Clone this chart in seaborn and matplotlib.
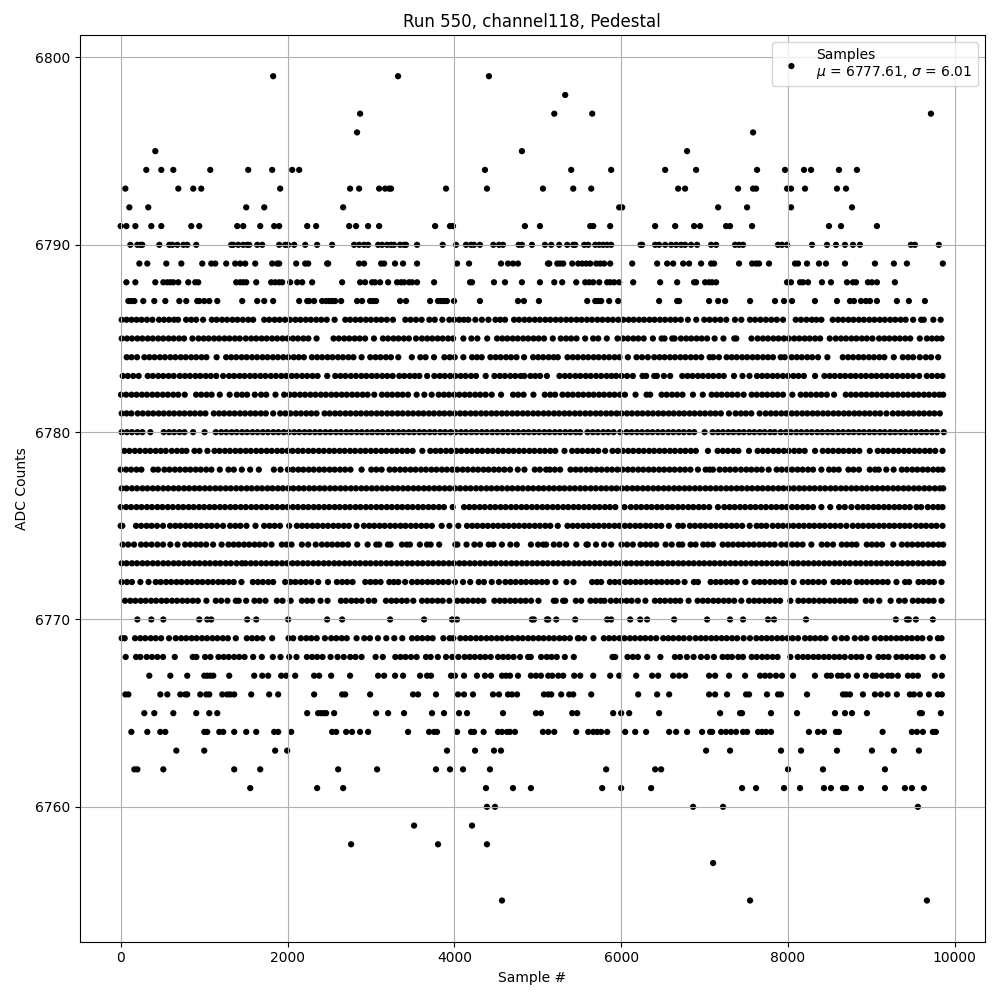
import pandas as pd
import matplotlib
matplotlib.use("Agg")
import matplotlib.pyplot as plt
import seaborn as sns

# Sample numbers, one list per ADC level.
# Solid rows can't be read dot by dot, so those are estimated along the visible runs.
s6799 = [1828, 3325, 4415]
s6798 = [5329]
s6797 = [2870, 5198, 5653, 9713]
s6796 = [2834, 7581]
s6795 = [415, 4810, 6790]
s6794 = [307, 487, 631, 1074, 1529, 1816, 2056, 2140, 4367, 5401, 5880, 6527, 6898, 7629, 7964, 8192, 8276, 8611, 8826]
s6793 = [56, 691, 870, 966, 1912, 2750, 2858, 3098, 3170, 3218, 3241, 3900, 4391, 5062, 5425, 5641, 6683, 6766, 7401, 7581, 7617, 7988, 8036, 8204, 8587, 8695]
s6792 = [104, 331, 1505, 1721, 2667, 5976, 6012, 7162, 7509, 8036, 8767]
s6791 = [0, 68, 176, 367, 487, 846, 942, 1397, 1469, 1673, 1840, 1900, 2236, 2343, 2739, 2822, 2966, 3098, 3769, 3948, 3984, 4846, 5026, 5629, 5665, 5868, 6407, 6647, 6874, 6946, 7257, 7305, 7569, 8491, 8635, 9066]
s6790 = [116, 200, 236, 259, 463, 583, 619, 679, 751, 799, 906, 1325, 1349, 1409, 1469, 1517, 1541, 1637, 1697, 1900, 1972, 2008, 2080, 2212, 2355, 2535, 2798, 2858, 2918, 2966, 3086, 3134, 3194, 3241, 3277, 3349, 3397, 3421, 3553, 3860, 4020, 4140, 4200, 4236, 4307, 4467, 4535, 4583, 4771, 4810, 4930, 5086, 5162, 5257, 5353, 5425, 5449, 5557, 5605, 5689, 5737, 5784, 5832, 5880, 6232, 6251, 6407, 6455, 6527, 6599, 6659, 6719, 6766, 6838, 6910, 7078, 7138, 7365, 7413, 7461, 7880, 7928, 7988, 8288, 8467, 8575, 8683, 8779, 8862, 9473, 9521, 9808]
s6789 = [224, 319, 547, 727, 978, 1086, 1134, 1265, 1373, 1433, 1493, 1613, 1816, 1876, 1900, 2104, 2212, 2248, 2475, 2487, 2858, 2918, 3122, 3158, 3289, 3385, 3553, 4032, 4176, 4559, 4643, 4703, 4763, 5122, 5138, 5234, 5269, 5305, 5413, 5485, 5533, 5581, 5629, 5701, 5749, 5796, 5868, 6132, 6431, 6551, 6623, 6743, 6814, 6958, 7078, 7114, 7413, 7569, 7617, 7653, 7772, 8084, 8120, 8228, 8371, 8455, 8683, 9042, 9269, 9425, 9856]
s6788 = [68, 176, 415, 511, 559, 595, 631, 691, 810, 894, 930, 1385, 1433, 1469, 1505, 1625, 1804, 1852, 1900, 1936, 2032, 2116, 2176, 2295, 2655, 2870, 2930, 3014, 3050, 3110, 3206, 3313, 3361, 3397, 3457, 3493, 3553, 3757, 4188, 4212, 4475, 4607, 4810, 5026, 5198, 5293, 5461, 5569, 5617, 5665, 5737, 5832, 5868, 5916, 5976, 6144, 6467, 6671, 6874, 6898, 7006, 7054, 7090, 7138, 7988, 8036, 8144, 8180, 8240, 8407, 8515, 8707, 8779, 8815, 8958, 9006, 9066, 9281]
s6787 = [92, 128, 164, 271, 403, 535, 703, 786, 918, 942, 1002, 1062, 1158, 1457, 1637, 1721, 1828, 2140, 2236, 2259, 2319, 2415, 2463, 2499, 2535, 2571, 2643, 2834, 2894, 2990, 3026, 3062, 3349, 3421, 3709, 3804, 3840, 3876, 3912, 3996, 4307, 4763, 4834, 5014, 5593, 5689, 5725, 5760, 5856, 5964, 6455, 6671, 6695, 7054, 7162, 7246, 7545, 7844, 7952, 8048, 8323, 8587, 8743, 8791, 8875, 8934, 8982, 9066, 9305, 9449, 9641]
s6786 = [12, 70, 130, 190, 250, 315, 380, 460, 520, 580, 640, 688, 784, 845, 905, 988, 1092, 1150, 1215, 1275, 1340, 1400, 1465, 1530, 1588, 1720, 1780, 1845, 1905, 1970, 2030, 2095, 2155, 2220, 2280, 2345, 2405, 2470, 2564, 2692, 2750, 2815, 2875, 2940, 3000, 3065, 3125, 3190, 3264, 3412, 3475, 3540, 3608, 3700, 3765, 3856, 3940, 4000, 4060, 4115, 4168, 4252, 4330, 4408, 4492, 4550, 4608, 4716, 4775, 4840, 4900, 4965, 5025, 5090, 5150, 5215, 5275, 5340, 5400, 5465, 5525, 5590, 5650, 5715, 5775, 5840, 5900, 5965, 6025, 6090, 6150, 6215, 6275, 6340, 6400, 6465, 6525, 6590, 6650, 6715, 6800, 6900, 6996, 7060, 7125, 7190, 7260, 7364, 7440, 7544, 7605, 7670, 7735, 7800, 7865, 7940, 8092, 8155, 8220, 8285, 8340, 8400, 8536, 8600, 8660, 8725, 8785, 8850, 8910, 8975, 9035, 9100, 9160, 9225, 9285, 9350, 9410, 9500, 9596, 9628, 9742, 9830]
s6785 = [12, 75, 135, 200, 260, 325, 385, 450, 510, 575, 635, 700, 760, 860, 932, 995, 1055, 1120, 1180, 1245, 1305, 1370, 1428, 1500, 1565, 1625, 1690, 1750, 1815, 1875, 1940, 2000, 2065, 2125, 2190, 2250, 2348, 2552, 2615, 2680, 2740, 2805, 2865, 2930, 3036, 3144, 3205, 3270, 3330, 3395, 3455, 3540, 3612, 3675, 3735, 3800, 3860, 3925, 3985, 4108, 4204, 4276, 4394, 4512, 4575, 4635, 4700, 4760, 4825, 4885, 4950, 5010, 5075, 5180, 5276, 5340, 5400, 5465, 5568, 5664, 5725, 5828, 5956, 6020, 6080, 6145, 6205, 6270, 6380, 6484, 6520, 6612, 6640, 6716, 6780, 6840, 6905, 6965, 7030, 7120, 7226, 7356, 7380, 7562, 7636, 7700, 7760, 7825, 7885, 7950, 8010, 8075, 8135, 8200, 8260, 8325, 8385, 8500, 8572, 8635, 8695, 8760, 8820, 8885, 8945, 9012, 9092, 9155, 9215, 9280, 9340, 9405, 9465, 9580, 9664, 9725, 9785, 9840]
s6784 = [72, 130, 196, 284, 345, 405, 470, 530, 595, 655, 720, 780, 845, 905, 970, 1028, 1150, 1264, 1325, 1385, 1450, 1510, 1575, 1635, 1700, 1760, 1825, 1885, 1950, 2010, 2075, 2135, 2196, 2292, 2355, 2415, 2480, 2540, 2605, 2665, 2730, 2790, 2888, 2992, 3055, 3115, 3180, 3240, 3328, 3490, 3592, 3655, 3756, 3880, 3945, 4005, 4108, 4212, 4270, 4328, 4432, 4495, 4555, 4620, 4680, 4745, 4836, 4944, 5005, 5065, 5130, 5190, 5240, 5356, 5420, 5480, 5545, 5605, 5670, 5730, 5795, 5855, 5920, 5980, 6080, 6184, 6250, 6320, 6396, 6460, 6520, 6585, 6645, 6710, 6770, 6835, 6895, 6960, 7060, 7104, 7172, 7264, 7325, 7385, 7450, 7510, 7575, 7635, 7700, 7760, 7820, 7912, 7960, 8044, 8105, 8165, 8230, 8290, 8360, 8472, 8656, 8720, 8780, 8845, 8905, 8970, 9030, 9095, 9155, 9268, 9376, 9440, 9500, 9580, 9652, 9715, 9800]
s6783 = [24, 85, 150, 216, 324, 385, 450, 510, 575, 636, 708, 770, 830, 895, 955, 1020, 1080, 1145, 1228, 1300, 1360, 1425, 1485, 1550, 1610, 1675, 1735, 1800, 1860, 1925, 1985, 2050, 2110, 2175, 2235, 2300, 2360, 2476, 2572, 2635, 2695, 2760, 2820, 2885, 2945, 3010, 3070, 3135, 3195, 3260, 3340, 3400, 3465, 3525, 3580, 3674, 3760, 3825, 3885, 3950, 4010, 4075, 4135, 4200, 4260, 4376, 4480, 4545, 4605, 4670, 4730, 4795, 4840, 4912, 4970, 5028, 5110, 5260, 5325, 5385, 5450, 5510, 5575, 5635, 5700, 5760, 5825, 5885, 5940, 6004, 6070, 6140, 6256, 6300, 6396, 6428, 6512, 6588, 6732, 6795, 6855, 6920, 6980, 7045, 7105, 7170, 7230, 7352, 7454, 7538, 7628, 7690, 7750, 7815, 7875, 7940, 8000, 8065, 8125, 8190, 8324, 8436, 8500, 8560, 8625, 8685, 8750, 8810, 8875, 8935, 9000, 9060, 9125, 9185, 9250, 9310, 9375, 9435, 9500, 9572, 9664, 9725, 9790, 9852]
s6782 = [4, 65, 130, 190, 255, 315, 380, 440, 505, 565, 630, 690, 768, 904, 965, 1030, 1090, 1188, 1306, 1392, 1455, 1515, 1608, 1684, 1745, 1856, 1960, 2025, 2085, 2150, 2210, 2275, 2335, 2400, 2460, 2525, 2585, 2650, 2710, 2775, 2835, 2900, 2960, 3040, 3132, 3195, 3255, 3320, 3380, 3445, 3548, 3640, 3728, 3812, 3875, 3935, 4000, 4060, 4125, 4185, 4250, 4310, 4375, 4448, 4560, 4704, 4765, 4830, 4948, 5084, 5150, 5208, 5296, 5360, 5420, 5485, 5545, 5610, 5670, 5735, 5795, 5860, 5920, 5985, 6045, 6172, 6304, 6348, 6484, 6545, 6610, 6670, 6735, 6860, 6978, 7084, 7145, 7205, 7270, 7330, 7395, 7468, 7564, 7625, 7690, 7750, 7815, 7875, 7940, 8052, 8152, 8215, 8275, 8340, 8400, 8465, 8552, 8692, 8755, 8815, 8880, 8940, 9005, 9065, 9130, 9190, 9255, 9315, 9380, 9440, 9505, 9565, 9630, 9690, 9755, 9815, 9860]
s6781 = [12, 70, 128, 204, 265, 330, 390, 455, 515, 580, 640, 705, 765, 830, 890, 955, 1016, 1116, 1180, 1240, 1305, 1365, 1430, 1490, 1555, 1615, 1680, 1740, 1828, 1912, 1975, 2035, 2100, 2160, 2225, 2285, 2348, 2444, 2505, 2570, 2630, 2695, 2755, 2820, 2880, 2945, 3005, 3070, 3130, 3195, 3255, 3320, 3380, 3445, 3505, 3570, 3630, 3695, 3755, 3820, 3880, 3945, 4005, 4070, 4130, 4195, 4255, 4320, 4380, 4445, 4505, 4570, 4630, 4695, 4755, 4820, 4880, 4945, 5005, 5070, 5130, 5195, 5255, 5320, 5380, 5445, 5505, 5570, 5630, 5695, 5755, 5820, 5880, 5945, 6005, 6070, 6130, 6195, 6255, 6320, 6380, 6445, 6505, 6570, 6630, 6695, 6755, 6820, 6880, 6945, 7005, 7070, 7130, 7195, 7292, 7372, 7435, 7495, 7560, 7660, 7732, 7795, 7855, 7920, 7980, 8045, 8105, 8170, 8230, 8295, 8355, 8420, 8480, 8545, 8605, 8670, 8730, 8795, 8855, 8920, 8980, 9045, 9105, 9180, 9256, 9320, 9380, 9445, 9505, 9570, 9630, 9695, 9755, 9820]
s6780 = [12, 75, 135, 200, 260, 356, 516, 580, 640, 705, 765, 868, 1006, 1140, 1205, 1265, 1330, 1390, 1455, 1515, 1580, 1640, 1705, 1765, 1830, 1890, 1955, 2015, 2080, 2140, 2205, 2265, 2330, 2390, 2455, 2515, 2580, 2640, 2705, 2765, 2830, 2890, 2955, 3015, 3080, 3140, 3205, 3265, 3330, 3390, 3455, 3515, 3580, 3640, 3705, 3765, 3830, 3890, 3955, 4015, 4080, 4140, 4205, 4265, 4330, 4390, 4455, 4515, 4580, 4640, 4705, 4765, 4830, 4890, 4955, 5015, 5080, 5140, 5205, 5265, 5330, 5390, 5455, 5508, 5596, 5660, 5720, 5785, 5845, 5910, 5988, 6064, 6125, 6190, 6250, 6315, 6375, 6440, 6500, 6565, 6625, 6690, 6750, 6815, 6875, 7000, 7096, 7160, 7220, 7285, 7345, 7410, 7470, 7535, 7595, 7660, 7720, 7785, 7840, 7912, 7975, 8035, 8100, 8160, 8225, 8285, 8350, 8410, 8475, 8535, 8600, 8660, 8725, 8785, 8850, 8910, 8975, 9035, 9100, 9160, 9225, 9285, 9350, 9410, 9475, 9535, 9600, 9660, 9725, 9785, 9868]
s6779 = [44, 105, 170, 230, 295, 355, 420, 480, 540, 612, 675, 735, 788, 884, 945, 1040, 1124, 1185, 1250, 1310, 1375, 1435, 1500, 1560, 1625, 1685, 1750, 1810, 1875, 1935, 2000, 2060, 2125, 2185, 2250, 2310, 2375, 2435, 2500, 2560, 2625, 2685, 2750, 2810, 2875, 2935, 3000, 3060, 3125, 3185, 3250, 3310, 3375, 3435, 3500, 3616, 3712, 3775, 3835, 3900, 3960, 4025, 4085, 4150, 4210, 4275, 4335, 4400, 4460, 4525, 4585, 4650, 4710, 4775, 4835, 4900, 4960, 5025, 5085, 5150, 5210, 5320, 5412, 5475, 5535, 5600, 5660, 5725, 5808, 5896, 5960, 6020, 6085, 6145, 6210, 6270, 6335, 6395, 6460, 6520, 6585, 6645, 6710, 6770, 6835, 6895, 7040, 7156, 7220, 7280, 7345, 7405, 7532, 7636, 7700, 7760, 7825, 7885, 7950, 8010, 8075, 8135, 8200, 8324, 8416, 8480, 8540, 8605, 8665, 8730, 8790, 8855, 8980, 9076, 9140, 9200, 9265, 9325, 9390, 9450, 9515, 9575, 9640, 9700, 9765, 9852]
s6778 = [0, 65, 125, 190, 248, 392, 448, 524, 585, 650, 710, 775, 835, 900, 960, 1025, 1088, 1188, 1292, 1356, 1452, 1552, 1656, 1836, 1916, 2004, 2065, 2130, 2190, 2255, 2315, 2380, 2440, 2505, 2565, 2630, 2690, 2755, 2888, 3004, 3065, 3128, 3224, 3285, 3350, 3410, 3475, 3535, 3600, 3660, 3725, 3785, 3850, 3910, 3975, 4035, 4100, 4160, 4225, 4285, 4350, 4410, 4475, 4535, 4600, 4668, 4760, 4840, 4964, 5025, 5100, 5144, 5205, 5268, 5392, 5455, 5515, 5580, 5640, 5705, 5765, 5830, 5890, 5955, 6015, 6080, 6140, 6205, 6265, 6330, 6390, 6455, 6515, 6580, 6640, 6705, 6765, 6830, 6920, 7012, 7060, 7100, 7180, 7245, 7305, 7368, 7436, 7500, 7560, 7625, 7685, 7768, 7864, 7925, 7990, 8050, 8115, 8175, 8240, 8300, 8400, 8492, 8550, 8608, 8724, 8785, 8850, 8980, 9044, 9088, 9178, 9266, 9364, 9425, 9490, 9550, 9615, 9675, 9740, 9800, 9852]
s6777 = [12, 70, 135, 195, 260, 320, 385, 445, 510, 570, 635, 695, 760, 820, 885, 945, 1010, 1070, 1135, 1195, 1260, 1320, 1385, 1445, 1510, 1570, 1635, 1695, 1760, 1820, 1885, 1945, 2010, 2070, 2135, 2195, 2260, 2320, 2385, 2445, 2510, 2570, 2635, 2695, 2760, 2820, 2885, 2945, 3010, 3070, 3135, 3195, 3260, 3320, 3385, 3445, 3510, 3570, 3635, 3695, 3760, 3820, 3885, 3945, 4010, 4070, 4135, 4195, 4260, 4320, 4385, 4445, 4510, 4570, 4635, 4695, 4760, 4820, 4885, 4945, 5010, 5070, 5135, 5195, 5260, 5320, 5385, 5445, 5510, 5570, 5635, 5695, 5760, 5820, 5885, 5945, 6010, 6070, 6135, 6195, 6260, 6320, 6385, 6445, 6510, 6570, 6635, 6695, 6760, 6820, 6885, 6945, 7010, 7070, 7135, 7195, 7260, 7320, 7385, 7445, 7510, 7570, 7635, 7695, 7760, 7820, 7885, 7945, 8010, 8070, 8135, 8195, 8260, 8320, 8385, 8445, 8510, 8570, 8635, 8695, 8760, 8820, 8885, 8945, 9010, 9070, 9135, 9195, 9260, 9320, 9385, 9445, 9510, 9570, 9635, 9695, 9760, 9820, 9860]
s6776 = [0, 65, 125, 190, 250, 315, 375, 440, 500, 565, 625, 690, 750, 815, 875, 940, 1000, 1065, 1125, 1190, 1250, 1315, 1375, 1440, 1500, 1565, 1625, 1690, 1750, 1815, 1875, 1940, 2000, 2065, 2125, 2190, 2250, 2315, 2375, 2440, 2500, 2565, 2625, 2690, 2750, 2815, 2875, 2940, 3000, 3065, 3125, 3190, 3250, 3315, 3375, 3440, 3500, 3565, 3625, 3690, 3750, 3815, 3875, 3980, 4116, 4180, 4240, 4305, 4365, 4430, 4490, 4555, 4615, 4680, 4740, 4805, 4865, 4930, 4990, 5055, 5115, 5180, 5240, 5305, 5365, 5430, 5490, 5555, 5615, 5680, 5740, 5805, 5865, 5930, 6040, 6116, 6180, 6240, 6305, 6365, 6430, 6490, 6555, 6615, 6680, 6740, 6805, 6865, 6930, 6990, 7055, 7160, 7236, 7300, 7360, 7425, 7485, 7550, 7610, 7675, 7735, 7800, 7860, 7925, 7985, 8050, 8110, 8175, 8235, 8300, 8400, 8506, 8612, 8680, 8760, 8836, 8900, 8960, 9025, 9085, 9150, 9210, 9275, 9335, 9400, 9460, 9540, 9596, 9676, 9740, 9800, 9852]
s6775 = [0, 20, 184, 245, 310, 370, 435, 508, 592, 655, 715, 780, 840, 905, 965, 1030, 1090, 1155, 1228, 1312, 1375, 1435, 1508, 1616, 1720, 1785, 1845, 1910, 2020, 2112, 2175, 2235, 2300, 2360, 2425, 2485, 2550, 2610, 2675, 2735, 2828, 2916, 2980, 3040, 3105, 3165, 3230, 3290, 3355, 3415, 3480, 3540, 3605, 3665, 3730, 3848, 3940, 4048, 4152, 4215, 4275, 4340, 4400, 4465, 4525, 4590, 4650, 4715, 4775, 4840, 4900, 4965, 5025, 5090, 5150, 5240, 5356, 5420, 5480, 5545, 5605, 5670, 5730, 5795, 5855, 5920, 5980, 6045, 6105, 6170, 6230, 6295, 6355, 6420, 6480, 6572, 6684, 6740, 6824, 6885, 6950, 7010, 7075, 7135, 7200, 7260, 7325, 7385, 7450, 7540, 7624, 7680, 7740, 7816, 7880, 7940, 8005, 8065, 8130, 8190, 8255, 8315, 8380, 8440, 8505, 8565, 8630, 8700, 8776, 8840, 8900, 8965, 9025, 9090, 9150, 9215, 9275, 9340, 9400, 9460, 9532, 9595, 9655, 9720, 9780, 9852]
s6774 = [24, 90, 160, 244, 305, 370, 440, 508, 595, 682, 772, 835, 900, 960, 1025, 1108, 1210, 1292, 1355, 1415, 1480, 1540, 1605, 1665, 1730, 1808, 1932, 1990, 2048, 2172, 2248, 2338, 2412, 2475, 2535, 2600, 2660, 2725, 2836, 2960, 3064, 3100, 3204, 3236, 3372, 3430, 3468, 3586, 3672, 3716, 3818, 4012, 4036, 4146, 4240, 4308, 4412, 4468, 4570, 4672, 4748, 4918, 5004, 5065, 5100, 5192, 5260, 5340, 5462, 5584, 5600, 5698, 5796, 5880, 6004, 6070, 6140, 6232, 6295, 6355, 6420, 6532, 6606, 6692, 6732, 6832, 6892, 6984, 7040, 7100, 7216, 7280, 7340, 7405, 7465, 7530, 7590, 7655, 7715, 7780, 7840, 7920, 7984, 8050, 8110, 8175, 8280, 8404, 8470, 8540, 8644, 8705, 8765, 8820, 8944, 9005, 9065, 9128, 9262, 9364, 9430, 9490, 9555, 9615, 9680, 9740, 9805, 9860]
s6773 = [12, 70, 135, 195, 260, 320, 385, 445, 510, 570, 635, 695, 760, 820, 885, 945, 1010, 1070, 1135, 1195, 1260, 1320, 1388, 1452, 1496, 1560, 1620, 1685, 1745, 1810, 1870, 1935, 1995, 2060, 2120, 2185, 2245, 2310, 2370, 2435, 2495, 2560, 2620, 2685, 2745, 2810, 2870, 2935, 2995, 3060, 3120, 3185, 3245, 3310, 3370, 3435, 3495, 3560, 3620, 3685, 3745, 3810, 3870, 3935, 3995, 4060, 4120, 4185, 4245, 4310, 4370, 4435, 4495, 4560, 4620, 4685, 4745, 4810, 4870, 4935, 4995, 5060, 5120, 5185, 5245, 5310, 5370, 5435, 5495, 5560, 5620, 5685, 5745, 5810, 5870, 5935, 5995, 6060, 6120, 6185, 6245, 6310, 6370, 6435, 6495, 6560, 6620, 6685, 6745, 6810, 6870, 6935, 6995, 7060, 7120, 7185, 7245, 7310, 7370, 7435, 7495, 7560, 7620, 7685, 7745, 7810, 7870, 7935, 7995, 8060, 8120, 8185, 8245, 8310, 8370, 8435, 8495, 8560, 8620, 8685, 8745, 8810, 8870, 8935, 8995, 9060, 9120, 9185, 9245, 9310, 9370, 9435, 9495, 9560, 9620, 9685, 9745, 9810, 9860]
s6772 = [12, 75, 135, 236, 334, 420, 480, 545, 605, 670, 730, 795, 855, 920, 980, 1045, 1105, 1170, 1230, 1295, 1355, 1448, 1584, 1645, 1705, 1770, 1828, 1972, 2035, 2095, 2160, 2220, 2285, 2368, 2485, 2592, 2655, 2715, 2780, 2932, 2995, 3055, 3116, 3220, 3275, 3328, 3410, 3492, 3555, 3615, 3680, 3740, 3805, 3865, 3930, 4008, 4104, 4190, 4292, 4355, 4448, 4534, 4612, 4675, 4735, 4800, 4860, 4925, 4985, 5050, 5110, 5212, 5344, 5428, 5652, 5710, 5760, 5864, 5925, 5985, 6050, 6110, 6175, 6235, 6300, 6360, 6425, 6485, 6550, 6610, 6675, 6760, 6872, 6920, 7072, 7135, 7195, 7260, 7320, 7385, 7488, 7596, 7660, 7720, 7785, 7845, 7910, 7970, 8068, 8176, 8240, 8300, 8365, 8432, 8544, 8605, 8670, 8732, 8824, 8885, 8945, 9010, 9070, 9135, 9195, 9300, 9404, 9452, 9564, 9625, 9690, 9750, 9840]
s6771 = [52, 115, 175, 240, 300, 365, 425, 490, 550, 615, 675, 740, 800, 865, 925, 1028, 1140, 1205, 1280, 1380, 1416, 1504, 1604, 1665, 1736, 1872, 1940, 2038, 2172, 2235, 2295, 2396, 2480, 2640, 2700, 2765, 2825, 2888, 2972, 3040, 3180, 3245, 3305, 3370, 3430, 3508, 3612, 3675, 3735, 3800, 3860, 3940, 4036, 4100, 4160, 4225, 4285, 4348, 4480, 4545, 4605, 4670, 4730, 4795, 4855, 4920, 5008, 5192, 5216, 5304, 5328, 5456, 5520, 5632, 5695, 5755, 5800, 5876, 5940, 6000, 6065, 6125, 6200, 6290, 6404, 6465, 6525, 6590, 6650, 6708, 6808, 6916, 6980, 7040, 7105, 7165, 7230, 7290, 7355, 7440, 7532, 7595, 7655, 7720, 7780, 7845, 7905, 8028, 8124, 8185, 8250, 8310, 8375, 8435, 8500, 8560, 8625, 8685, 8750, 8808, 8932, 9000, 9094, 9230, 9332, 9400, 9496, 9560, 9620, 9685, 9745, 9840]
s6770 = [200, 367, 511, 942, 1038, 1086, 1517, 1625, 2008, 2475, 2655, 3230, 3637, 3972, 4032, 4930, 4954, 5110, 5126, 5222, 5449, 5832, 5880, 6108, 6228, 6311, 6635, 7030, 7305, 7461, 7760, 7832, 8216, 9293, 9425, 9449, 9533, 9736]
s6769 = [12, 48, 172, 235, 295, 360, 420, 485, 580, 660, 725, 785, 850, 910, 975, 1035, 1100, 1160, 1225, 1285, 1380, 1512, 1575, 1635, 1700, 1816, 2012, 2068, 2160, 2225, 2285, 2350, 2448, 2524, 2585, 2650, 2710, 2828, 2920, 2988, 3084, 3184, 3280, 3376, 3492, 3555, 3615, 3680, 3740, 3868, 3944, 3988, 4072, 4135, 4195, 4260, 4320, 4385, 4445, 4510, 4570, 4635, 4695, 4760, 4820, 4885, 4945, 5010, 5070, 5135, 5195, 5260, 5320, 5385, 5480, 5492, 5555, 5668, 5792, 5855, 5915, 5980, 6040, 6105, 6165, 6230, 6290, 6355, 6420, 6504, 6565, 6625, 6690, 6750, 6820, 6892, 6955, 7015, 7080, 7140, 7205, 7265, 7330, 7390, 7468, 7544, 7620, 7684, 7745, 7805, 7870, 7930, 7995, 8055, 8120, 8204, 8265, 8325, 8390, 8450, 8560, 8644, 8705, 8800, 8876, 8940, 9040, 9112, 9175, 9235, 9300, 9360, 9425, 9485, 9550, 9610, 9700, 9796, 9840]
s6768 = [60, 184, 236, 312, 375, 440, 508, 648, 864, 908, 1012, 1076, 1172, 1235, 1295, 1360, 1420, 1485, 1588, 1692, 1824, 1916, 2020, 2108, 2232, 2295, 2355, 2420, 2516, 2600, 2674, 2752, 2815, 2888, 3056, 3142, 3292, 3355, 3415, 3480, 3548, 3660, 3716, 3802, 3900, 3975, 4048, 4124, 4185, 4245, 4310, 4370, 4436, 4524, 4585, 4645, 4710, 4788, 4884, 4916, 5040, 5108, 5165, 5228, 5324, 5432, 5896, 5928, 6076, 6140, 6200, 6312, 6470, 6644, 6705, 6788, 6868, 6956, 7030, 7112, 7216, 7275, 7328, 7404, 7460, 7564, 7625, 7690, 7750, 7815, 7875, 8028, 8116, 8180, 8240, 8305, 8365, 8430, 8490, 8555, 8615, 8680, 8756, 8820, 8880, 8972, 9084, 9145, 9205, 9300, 9364, 9425, 9490, 9550, 9615, 9732, 9856]
s6767 = [343, 595, 798, 1002, 1038, 1074, 1110, 1301, 1601, 1697, 1768, 1924, 1984, 2092, 2319, 2379, 2523, 2750, 3086, 3158, 3289, 3385, 3589, 3673, 3720, 3960, 4008, 4116, 4271, 4367, 4439, 4571, 4619, 4667, 4763, 4918, 4978, 5038, 5126, 5174, 5246, 5305, 5437, 5509, 5665, 5868, 5976, 6180, 6371, 6443, 6623, 6695, 6766, 7054, 7126, 7293, 7485, 7665, 7724, 7784, 7856, 7928, 8060, 8323, 8467, 8515, 8599, 8647, 8719, 8826, 8934, 9018, 9054, 9126, 9197, 9245, 9317, 9437, 9497, 9557, 9760, 9844]
s6766 = [56, 92, 475, 559, 715, 774, 798, 954, 1026, 1062, 1218, 1277, 1313, 1361, 1565, 1780, 1888, 2319, 2655, 2691, 2990, 3505, 3565, 3780, 4044, 4116, 4223, 4463, 4535, 4643, 4691, 4751, 5074, 5126, 5162, 5281, 5377, 5425, 5641, 6204, 6431, 6575, 7054, 7126, 7269, 7497, 7533, 7748, 7880, 7916, 8228, 8659, 8695, 8743, 8898, 9042, 9114, 9193, 9305, 9461, 9509, 9581, 9689, 9796, 9844]
s6765 = [283, 403, 631, 906, 1062, 1158, 2236, 2367, 2403, 2439, 2463, 2559, 3062, 3206, 3397, 3732, 3876, 4056, 4152, 4583, 4978, 5038, 5413, 5473, 5904, 6000, 6096, 6455, 7186, 7425, 7449, 7796, 8108, 8563, 8683, 8767, 8946, 9581, 9605, 9832]
s6764 = [128, 319, 475, 535, 1002, 1038, 1182, 1229, 1361, 1505, 1625, 1840, 1888, 2044, 2535, 2583, 2703, 2774, 2870, 2966, 3445, 3697, 3757, 3792, 4032, 4200, 4236, 4351, 4523, 4571, 4631, 4667, 4727, 5062, 5126, 5198, 5461, 5605, 5665, 5713, 5760, 5832, 6048, 6168, 6299, 6575, 6659, 6790, 6970, 7066, 7090, 7198, 7257, 7317, 7377, 7461, 7509, 7641, 7689, 7736, 7796, 8251, 8359, 8431, 8575, 8611, 9134, 9485, 9545, 9617, 9736, 9772]
s6763 = [667, 1002, 1852, 1996, 3912, 4248, 4475, 4559, 7018, 7305, 7916, 8156, 8587, 9006, 9269, 9569]
s6762 = [164, 200, 511, 1361, 1673, 2607, 3074, 3780, 3948, 4104, 4427, 5820, 6407, 6479, 8000, 8419, 9162]
s6761 = [1553, 2355, 2667, 4379, 4703, 4918, 5772, 6000, 6359, 7449, 7617, 7952, 8144, 8431, 8515, 8659, 8695, 8874, 9162, 9401, 9485, 9629]
s6760 = [4391, 4487, 6862, 7221, 9557]
s6759 = [3517, 4212]
s6758 = [2762, 3804, 4391]
s6757 = [7102]
s6755 = [4571, 7545, 9665]

levels = [6799, 6798, 6797, 6796, 6795, 6794, 6793, 6792, 6791, 6790, 6789, 6788, 6787, 6786, 6785, 6784, 6783, 6782,
          6781, 6780, 6779, 6778, 6777, 6776, 6775, 6774, 6773, 6772, 6771, 6770, 6769, 6768, 6767, 6766, 6765, 6764,
          6763, 6762, 6761, 6760, 6759, 6758, 6757, 6755]
rows = [s6799, s6798, s6797, s6796, s6795, s6794, s6793, s6792, s6791, s6790, s6789, s6788, s6787, s6786, s6785, s6784, s6783, s6782,
        s6781, s6780, s6779, s6778, s6777, s6776, s6775, s6774, s6773, s6772, s6771, s6770, s6769, s6768, s6767, s6766, s6765, s6764,
        s6763, s6762, s6761, s6760, s6759, s6758, s6757, s6755]

samples = []
counts = []
for level, row in zip(levels, rows):
    for s in row:
        samples.append(s)
        counts.append(level)
df = pd.DataFrame({"sample": samples, "adc": counts})

fig, ax = plt.subplots(figsize=(10, 10), dpi=100)
sns.scatterplot(data=df, x="sample", y="adc", color="black", marker=".", s=81,
                edgecolor="none", linewidth=0,
                label="Samples\n$\\mu$ = 6777.61, $\\sigma$ = 6.01", ax=ax)
ax.set_title("Run 550, channel118, Pedestal")
ax.set_xlabel("Sample #")
ax.set_ylabel("ADC Counts")
ax.grid(True)
ax.legend(loc="upper right")
plt.tight_layout()
fig.subplots_adjust(top=0.965)
plt.savefig("out.png")
